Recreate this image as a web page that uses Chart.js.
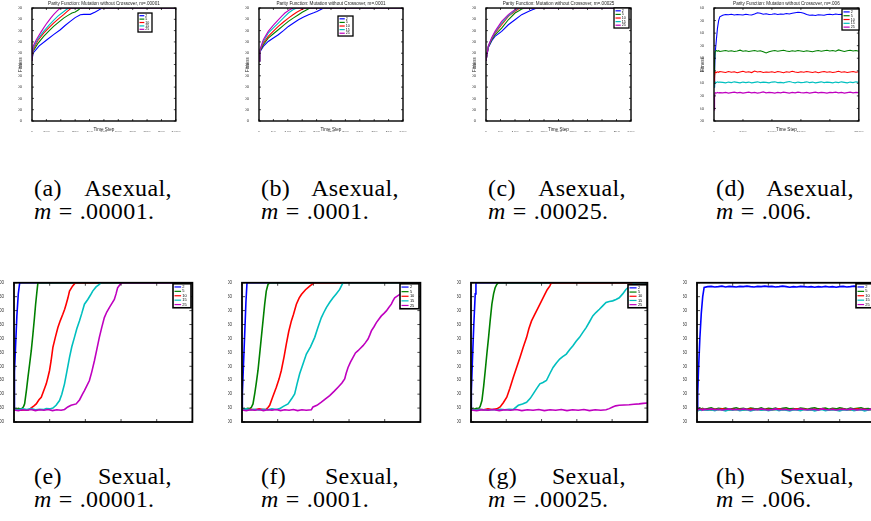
<!DOCTYPE html>
<html>
<head>
<meta charset="utf-8">
<script src="https://cdn.jsdelivr.net/npm/chart.js@4/dist/chart.umd.min.js"></script>
<style>
  html, body { margin: 0; padding: 0; background: #fff; }
  body { width: 871px; height: 521px; overflow: hidden; position: relative; }
  .cap { position: absolute; width: 138px; font-family: 'Liberation Serif', 'Times New Roman', serif;
         font-size: 24px; line-height: 23px; letter-spacing: 0.4px; color: #000; white-space: nowrap; }
  .cap .l1 { display: flex; justify-content: space-between; }
  .cap i { font-style: italic; }
  .cap .eq { margin: 0 7px; }
</style>
</head>
<body>

<div class="cap" style="left:34px;top:177px"><div class="l1"><span>(a)</span><span>Asexual,</span></div><div><i>m</i><span class="eq">=</span>.00001.</div></div>
<div class="cap" style="left:261px;top:177px"><div class="l1"><span>(b)</span><span>Asexual,</span></div><div><i>m</i><span class="eq">=</span>.0001.</div></div>
<div class="cap" style="left:488px;top:177px"><div class="l1"><span>(c)</span><span>Asexual,</span></div><div><i>m</i><span class="eq">=</span>.00025.</div></div>
<div class="cap" style="left:716px;top:177px"><div class="l1"><span>(d)</span><span>Asexual,</span></div><div><i>m</i><span class="eq">=</span>.006.</div></div>
<div class="cap" style="left:34px;top:465px"><div class="l1"><span>(e)</span><span>Sexual,</span></div><div><i>m</i><span class="eq">=</span>.00001.</div></div>
<div class="cap" style="left:261px;top:465px"><div class="l1"><span>(f)</span><span>Sexual,</span></div><div><i>m</i><span class="eq">=</span>.0001.</div></div>
<div class="cap" style="left:488px;top:465px"><div class="l1"><span>(g)</span><span>Sexual,</span></div><div><i>m</i><span class="eq">=</span>.00025.</div></div>
<div class="cap" style="left:716px;top:465px"><div class="l1"><span>(h)</span><span>Sexual,</span></div><div><i>m</i><span class="eq">=</span>.006.</div></div>

<script>
// series legend + MATLAB default line colours
const LEGEND = ['2', '5', '10', '15', '25'];
const COLORS = ['#0000ff', '#008000', '#ff0000', '#00bfbf', '#bf00bf'];

// ----- (a) asexual, m=.00001 : [time step, fitness] -----
const A_2  = [[0,532],[7,600],[50,665],[104,719],[150,765],[197,808],[230,845],[266,882],[300,915],[336,941],[360,944],[405,944],[440,965],[475,990],[486,1000],[1000,1000]];
const A_5  = [[0,532],[7,615],[40,685],[81,749],[120,800],[150,837],[190,880],[220,911],[250,935],[278,956],[300,965],[324,985],[336,1000],[1000,1000]];
const A_10 = [[0,532],[7,630],[40,710],[81,778],[120,828],[150,867],[190,910],[220,941],[245,970],[273,1000],[1000,1000]];
const A_15 = [[0,532],[7,645],[40,725],[81,793],[120,850],[150,891],[180,928],[208,956],[235,982],[255,1000],[1000,1000]];
const A_25 = [[0,532],[7,660],[30,720],[58,778],[80,822],[104,867],[130,910],[150,941],[175,975],[197,1000],[1000,1000]];

// ----- (b) asexual, m=.0001 -----
const B_2  = [[0,532],[3,610],[15,660],[32,704],[50,735],[67,763],[85,800],[102,837],[120,868],[137,896],[155,920],[172,941],[190,958],[201,970],[218,991],[224,1000],[500,1000]];
const B_5  = [[0,532],[3,615],[15,675],[32,734],[50,772],[67,808],[85,846],[102,882],[120,913],[137,941],[150,962],[166,985],[177,1000],[500,1000]];
const B_10 = [[0,532],[3,620],[15,690],[32,749],[50,795],[67,837],[85,876],[102,911],[118,940],[131,962],[145,982],[160,1000],[500,1000]];
const B_15 = [[0,532],[3,625],[15,705],[32,778],[50,825],[67,867],[85,913],[102,956],[118,985],[131,1000],[500,1000]];
const B_25 = [[0,532],[3,630],[15,720],[32,793],[50,848],[67,896],[80,930],[90,956],[105,982],[119,1000],[500,1000]];

// ----- (c) asexual, m=.00025 -----
const C_2  = [[0,532],[8,650],[20,710],[31,749],[54,793],[77,852],[100,896],[123,941],[146,970],[160,985],[169,994],[173,1000],[500,1000]];
const C_5  = [[0,532],[8,655],[20,720],[31,763],[54,822],[77,896],[100,956],[115,978],[123,991],[135,1000],[500,1000]];
const C_10 = [[0,532],[8,660],[20,730],[31,778],[54,852],[77,926],[100,970],[110,988],[118,1000],[500,1000]];
const C_15 = [[0,532],[8,662],[20,735],[31,784],[54,867],[77,932],[100,979],[112,1000],[500,1000]];
const C_25 = [[0,532],[8,665],[20,740],[31,793],[54,882],[77,941],[90,968],[100,985],[106,1000],[500,1000]];

// ----- (d) asexual, m=.006 and (h) sexual, m=.006 share these time steps -----
const T_FLAT = [0,10,20,40,60,80,100,
  150,200,250,300,350,400,450,500,
  550,600,650,700,750,800,850,900,950,1000,
  1050,1100,1150,1200,1250,1300,1350,1400,1450,1500,
  1550,1600,1650,1700,1750,1800,1850,1900,1950,2000,
  2050,2100,2150,2200,2250,2300,2350,2400,2450,2500];

const D_2  = [636,700,770,821,870,900,915,
  921,924,923,925,922,924,923,922,
  925,923,922,926,931,929,925,927,924,925,
  927,924,926,925,928,926,929,931,933,932,
  929,924,921,922,920,923,922,921,924,925,
  923,926,924,925,922,921,923,922,920,921];
const D_5  = [675,740,775,781,778,780,777,
  779,781,778,780,777,779,782,778,
  780,777,779,781,778,780,776,771,776,779,
  781,778,780,782,779,777,780,778,781,779,
  777,780,778,776,779,781,778,780,782,779,
  781,778,783,780,777,780,782,779,781,778];
const D_10 = [649,680,695,693,696,694,697,
  695,693,697,694,696,692,695,698,
  694,696,693,699,695,697,693,695,694,696,
  693,697,695,692,696,694,698,695,693,696,
  694,697,695,693,696,692,695,697,694,696,
  693,695,698,694,696,693,695,697,694,696];
const D_15 = [636,650,655,653,656,654,655,
  654,652,655,653,656,654,652,655,
  653,655,652,654,656,653,655,654,652,655,
  656,653,654,652,655,657,654,652,655,653,
  654,656,653,655,652,654,656,653,655,654,
  652,655,653,656,654,652,655,653,656,654];
const D_25 = [544,600,613,611,614,612,613,
  612,614,611,613,615,612,614,611,
  613,615,612,614,611,613,616,612,614,613,
  611,614,612,615,613,611,614,612,615,613,
  612,614,611,613,615,612,614,613,611,614,
  613,615,612,614,611,613,615,612,614,613];

// ----- (e) sexual, m=.00001 -----
const E_2  = [[0,545],[3,590],[10,680],[20,760],[40,880],[60,960],[80,1000],[2500,1000]];
const E_5  = [[0,548],[30,546],[60,549],[90,547],[116,549],[135,556],[149,565],[175,615],[196,661],[220,710],[242,756],[265,815],[285,870],[303,923],[320,965],[335,1000],[2500,1000]];
const E_10 = [[0,543],[50,545],[100,542],[150,544],[200,543],[242,551],[280,558],[312,565],[350,580],[382,589],[420,615],[452,637],[475,660],[498,685],[520,720],[545,768],[580,805],[615,839],[650,865],[684,887],[710,905],[731,923],[755,945],[778,970],[820,988],[861,1000],[2500,1000]];
const E_15 = [[0,546],[60,544],[120,547],[180,545],[240,548],[300,544],[360,546],[420,545],[452,548],[500,547],[545,550],[590,560],[638,577],[670,600],[708,637],[740,680],[778,732],[810,770],[847,804],[880,835],[917,863],[950,890],[987,923],[1034,940],[1070,955],[1103,970],[1150,985],[1196,994],[1220,1000],[2500,1000]];
const E_25 = [[0,543],[60,541],[120,544],[180,542],[240,545],[300,541],[360,544],[420,542],[480,545],[540,541],[600,544],[660,542],[708,545],[754,554],[800,560],[871,565],[920,580],[960,600],[987,613],[1020,630],[1057,649],[1090,680],[1127,720],[1160,760],[1196,804],[1230,840],[1266,875],[1300,895],[1336,911],[1370,925],[1406,940],[1430,960],[1452,982],[1490,995],[1522,1000],[2500,1000]];

// ----- (f) sexual, m=.0001 -----
const F_2  = [[0,545],[5,600],[20,700],[40,830],[55,930],[70,1000],[2500,1000]];
const F_5  = [[0,548],[40,546],[80,549],[107,548],[130,552],[154,565],[180,605],[200,640],[224,685],[250,750],[271,804],[295,865],[318,923],[340,970],[364,994],[388,1000],[2500,1000]];
const F_10 = [[0,545],[60,543],[120,546],[180,544],[240,547],[300,545],[341,546],[365,552],[388,560],[430,590],[481,625],[520,655],[551,685],[590,735],[621,780],[655,825],[692,863],[720,885],[762,923],[800,945],[832,958],[890,975],[949,988],[985,995],[1019,1000],[2500,1000]];
const F_15 = [[0,545],[60,547],[120,544],[180,546],[240,543],[300,546],[360,544],[420,547],[481,545],[528,548],[580,556],[645,565],[700,585],[738,601],[770,635],[808,673],[850,705],[902,744],[960,770],[1019,804],[1065,840],[1112,875],[1150,895],[1182,911],[1230,930],[1276,946],[1320,960],[1369,976],[1395,990],[1416,1000],[2500,1000]];
const F_25 = [[0,543],[60,541],[120,544],[180,542],[240,545],[300,541],[360,544],[420,542],[480,545],[540,541],[600,544],[660,542],[720,545],[780,541],[840,544],[900,542],[972,544],[995,554],[1050,560],[1112,571],[1170,583],[1229,595],[1290,610],[1346,625],[1400,640],[1439,655],[1460,675],[1486,696],[1520,715],[1556,732],[1590,748],[1626,756],[1660,765],[1696,774],[1730,785],[1766,798],[1790,812],[1813,827],[1850,842],[1883,857],[1920,870],[1953,881],[1990,890],[2023,899],[2060,912],[2093,923],[2115,935],[2140,946],[2175,952],[2210,958],[2260,962],[2304,970],[2350,982],[2397,994],[2430,998],[2467,1000],[2500,1000]];

// ----- (g) sexual, m=.00025 -----
const G_2  = [[0,545],[5,610],[20,720],[40,850],[60,960],[70,1000],[2500,1000]];
const G_5  = [[0,548],[40,546],[80,549],[108,548],[130,556],[155,577],[180,630],[202,685],[225,745],[249,804],[272,865],[296,923],[320,960],[342,982],[365,994],[389,1000],[2500,1000]];
const G_10 = [[0,545],[60,543],[120,546],[180,544],[240,547],[300,545],[366,547],[413,554],[460,570],[507,589],[550,620],[600,661],[650,698],[694,732],[740,768],[788,804],[820,835],[858,863],[900,885],[952,911],[1000,935],[1046,958],[1080,975],[1116,988],[1140,1000],[2500,1000]];
const G_15 = [[0,545],[60,543],[120,546],[180,544],[240,542],[300,545],[360,543],[420,546],[480,544],[540,546],[600,545],[671,560],[730,565],[788,571],[840,585],[882,601],[930,620],[976,637],[1020,642],[1069,649],[1120,675],[1163,696],[1210,712],[1257,726],[1300,735],[1351,744],[1400,760],[1445,774],[1490,790],[1538,804],[1585,822],[1632,839],[1680,860],[1726,881],[1770,893],[1820,905],[1870,918],[1914,929],[1960,933],[2008,935],[2055,940],[2101,946],[2150,960],[2195,976],[2240,985],[2289,994],[2336,1000],[2500,1000]];
const G_25 = [[0,543],[80,541],[160,544],[240,542],[320,545],[400,541],[480,544],[560,542],[640,545],[720,541],[800,544],[880,542],[960,545],[1040,541],[1120,544],[1200,542],[1280,545],[1360,541],[1440,544],[1520,542],[1600,545],[1680,541],[1760,544],[1840,542],[1914,544],[1960,548],[2008,554],[2050,558],[2101,560],[2170,561],[2242,562],[2310,564],[2383,565],[2440,567],[2500,568]];

// ----- (h) sexual, m=.006 (time steps = T_FLAT) -----
const H_2  = [545,600,680,800,890,950,983,
  986,987,985,986,988,985,987,986,
  985,987,986,988,986,985,987,986,988,986,
  987,985,986,988,986,984,986,985,987,986,
  985,986,984,986,985,987,985,986,984,986,
  987,985,986,988,986,985,987,985,986,987];
const H_5  = [545,548,546,550,547,549,546,
  548,551,546,549,547,550,546,548,
  551,547,549,546,550,548,547,551,546,549,
  547,550,546,549,551,547,548,546,550,548,
  546,549,551,547,548,550,546,549,547,551,
  548,546,550,547,549,551,547,548,546,549];
const H_10 = [545,544,546,543,545,547,544,
  545,543,546,544,547,545,543,546,
  544,546,543,545,547,544,546,543,545,546,
  543,545,547,544,546,543,545,547,544,546,
  545,543,546,544,547,545,543,546,544,545,
  546,544,543,545,547,544,546,543,545,544];
const H_15 = [545,543,541,544,542,545,543,
  542,544,541,545,543,540,544,542,
  545,541,543,544,540,543,545,542,544,541,
  543,545,541,544,542,540,544,543,541,545,
  542,544,540,543,545,541,543,544,542,540,
  544,542,545,541,543,544,540,543,545,542];
const H_25 = [545,546,544,547,545,543,546,
  545,547,544,546,543,545,547,544,
  546,544,547,545,543,546,544,547,545,543,
  545,547,544,546,545,543,546,544,547,545,
  544,546,545,543,547,545,544,546,543,545,
  546,544,547,545,543,546,545,544,547,545];

const fromPairs = pairs => pairs.map(p => ({ x: p[0], y: p[1] }));
const fromCols = (xs, ys) => xs.map((x, i) => ({ x, y: ys[i] }));

// panel layout (plot-area box in page pixels) and axis ranges
const PANELS = [
  { row: 0, left: 32,  top: 8,   w: 144, h: 113, title: 'Parity Function: Mutation without Crossover, m=.00001',
    xMax: 1000, xStep: 100, yMin: 0, yMax: 1000, yStep: 100, leg: [106, 5, 14, 19],
    series: [A_2, A_5, A_10, A_15, A_25].map(fromPairs) },
  { row: 0, left: 259, top: 8,   w: 144, h: 113, title: 'Parity Function: Mutation without Crossover, m=.0001',
    xMax: 500, xStep: 50, yMin: 0, yMax: 1000, yStep: 100, leg: [79, 8, 15, 20],
    series: [B_2, B_5, B_10, B_15, B_25].map(fromPairs) },
  { row: 0, left: 486, top: 8,   w: 145, h: 113, title: 'Parity Function: Mutation without Crossover, m=.00025',
    xMax: 500, xStep: 50, yMin: 0, yMax: 1000, yStep: 100, leg: [128, 0, 15, 20],
    series: [C_2, C_5, C_10, C_15, C_25].map(fromPairs) },
  { row: 0, left: 714, top: 8,   w: 145, h: 113, title: 'Parity Function: Mutation without Crossover, m=.006',
    xMax: 2500, xStep: 500, yMin: 500, yMax: 950, yStep: 50, leg: [128, 1, 17, 21],
    series: [D_2, D_5, D_10, D_15, D_25].map(ys => fromCols(T_FLAT, ys)) },
  { row: 1, left: 14,  top: 282, w: 179, h: 140,
    xMax: 2500, xStep: 500, yMin: 500, yMax: 1000, yStep: 50, leg: [159, 1, 18, 24],
    series: [E_2, E_5, E_10, E_15, E_25].map(fromPairs) },
  { row: 1, left: 242, top: 282, w: 179, h: 140,
    xMax: 2500, xStep: 500, yMin: 500, yMax: 1000, yStep: 50, leg: [158, 1, 19, 25],
    series: [F_2, F_5, F_10, F_15, F_25].map(fromPairs) },
  { row: 1, left: 471, top: 282, w: 177, h: 140,
    xMax: 2500, xStep: 500, yMin: 500, yMax: 1000, yStep: 50, leg: [157, 2, 19, 23],
    series: [G_2, G_5, G_10, G_15, G_25].map(fromPairs) },
  { row: 1, left: 697, top: 282, w: 179, h: 140,
    xMax: 2500, xStep: 500, yMin: 500, yMax: 1000, yStep: 50, leg: [159, 1, 18, 24],
    series: [H_2, H_5, H_10, H_15, H_25].map(ys => fromCols(T_FLAT, ys)) }
];

// matlab-like box with inward ticks on all four sides
const framePlugin = {
  id: 'frame',
  afterDatasetsDraw(chart, args, o) {
    const { ctx, chartArea: a } = chart;
    const { x, y } = chart.scales;
    ctx.save();
    ctx.strokeStyle = '#000';
    ctx.lineWidth = 0.7;
    ctx.beginPath();
    x.ticks.forEach(t => {
      const px = x.getPixelForValue(t.value);
      ctx.moveTo(px, a.bottom); ctx.lineTo(px, a.bottom - o.tick);
      ctx.moveTo(px, a.top); ctx.lineTo(px, a.top + o.tick);
    });
    y.ticks.forEach(t => {
      const py = y.getPixelForValue(t.value);
      ctx.moveTo(a.left, py); ctx.lineTo(a.left + o.tick, py);
      ctx.moveTo(a.right, py); ctx.lineTo(a.right - o.tick, py);
    });
    ctx.stroke();
    ctx.lineWidth = o.width;
    ctx.strokeRect(a.left, a.top, a.right - a.left, a.bottom - a.top);
    ctx.restore();
  }
};

// boxed legend drawn inside the plot area
const boxLegend = {
  id: 'boxLegend',
  afterDraw(chart, args, o) {
    const { ctx, chartArea: a } = chart;
    const [dx, dy, w, h] = o.box;
    const x = a.left + dx, y = a.top + dy;
    ctx.save();
    ctx.fillStyle = '#fff';
    ctx.fillRect(x, y, w, h);
    const n = chart.data.datasets.length, rh = (h - 2) / n;
    chart.data.datasets.forEach((ds, i) => {
      const cy = y + 1 + rh * (i + 0.5);
      ctx.strokeStyle = ds.borderColor;
      ctx.lineWidth = 1.2;
      ctx.beginPath(); ctx.moveTo(x + 1.5, cy); ctx.lineTo(x + w * 0.45, cy); ctx.stroke();
      ctx.fillStyle = '#000';
      ctx.font = o.font + "px 'Liberation Sans', Arial";
      ctx.textBaseline = 'middle';
      ctx.fillText(ds.label, x + w * 0.52, cy);
    });
    ctx.lineWidth = o.border;
    ctx.strokeStyle = '#000';
    ctx.strokeRect(x, y, w, h);
    ctx.restore();
  }
};

Chart.defaults.font.family = "'Liberation Sans', Arial, sans-serif";
Chart.defaults.color = '#333';

PANELS.forEach(p => {
  const top = p.row === 0;
  const yW = 14, xH = top ? 11 : 8, padT = top ? 0 : 4, padR = 6, headH = top ? 8 : 0;
  const fs = top ? 4.2 : 4.6;
  const cw = yW + p.w + padR, ch = padT + headH + p.h + xH;

  const cv = document.createElement('canvas');
  cv.width = cw; cv.height = ch;
  cv.style.cssText = `position:absolute;left:${p.left - yW}px;top:${p.top - headH - padT}px;width:${cw}px;height:${ch}px`;
  document.body.appendChild(cv);

  new Chart(cv, {
    type: 'line',
    data: {
      datasets: p.series.map((d, i) => ({
        label: LEGEND[i], data: d, borderColor: COLORS[i], borderWidth: top ? 1.1 : 1.6,
        pointRadius: 0, tension: 0, fill: false, order: 4 - i
      }))
    },
    options: {
      responsive: false, animation: false, devicePixelRatio: 1,
      layout: { padding: { top: padT, right: padR, left: 0, bottom: 0 } },
      plugins: {
        legend: { display: false },
        tooltip: { enabled: false },
        title: {
          display: top, text: p.title || '', fullSize: false, color: '#222',
          font: { size: 4.6, lineHeight: 1.2, weight: 'normal' }, padding: { top: 1, bottom: 1.5 }
        },
        frame: { tick: top ? 2 : 3, width: top ? 1.4 : 1.8 },
        boxLegend: { box: p.leg, font: top ? 3.6 : 4, border: top ? 1.3 : 1.6 }
      },
      scales: {
        x: {
          type: 'linear', min: 0, max: p.xMax,
          grid: { display: false }, border: { display: false },
          ticks: { stepSize: p.xStep, autoSkip: false, maxRotation: 0, padding: 1.5,
                   font: { size: fs }, callback: v => String(v) },
          title: { display: top, text: 'Time Step', padding: 0, color: '#222', font: { size: 4.6, lineHeight: 1.2 } },
          afterFit: s => { s.height = xH; }
        },
        y: {
          type: 'linear', min: p.yMin, max: p.yMax,
          grid: { display: false }, border: { display: false },
          ticks: { stepSize: p.yStep, autoSkip: false, padding: 2,
                   font: { size: fs }, callback: v => String(v) },
          title: { display: top, text: 'Fitness', padding: 0, color: '#222', font: { size: 4.6, lineHeight: 1.2 } },
          afterFit: s => { s.width = yW; }
        }
      }
    },
    plugins: [framePlugin, boxLegend]
  });
});
</script>
</body>
</html>
